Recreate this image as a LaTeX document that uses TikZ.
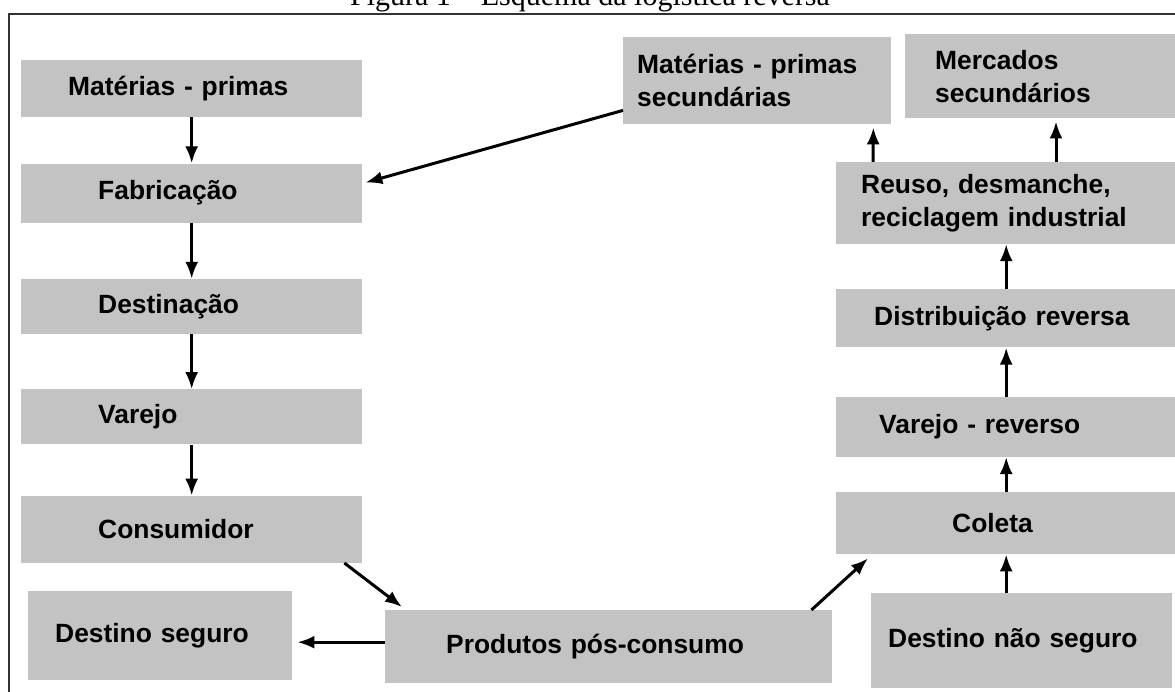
\documentclass[tikz,border=0pt]{standalone}
\usepackage{fontspec}
\setmainfont{Liberation Serif}
\newfontfamily\boxfont{Liberation Sans}
\usetikzlibrary{positioning, arrows.meta}
\definecolor{boxgray}{RGB}{195,195,195}
\definecolor{framegray}{RGB}{50,50,50}

\begin{document}
\begin{tikzpicture}[x=1pt, y=-1pt,
    box/.style={fill=boxgray, inner ysep=0pt, align=left,
        font=\boxfont\bfseries\fontsize{26.4}{33}\selectfont},
    arr/.style={-{Latex[length=17pt, width=13pt]}, line width=3pt}]
    \useasboundingbox (0,0) rectangle (1175,691);
    % Caption and frame
    \node (caption) [anchor=base, font=\fontsize{30}{36}\selectfont] at (590,5) {Figura 1 – Esquema da logística reversa};
    \draw[framegray, line width=2pt] (9,14) rectangle (1200,720);
    % Nodes for the forward chain
    \node (mp) [box, anchor=north west, text width=247pt, inner xsep=47pt, minimum height=57pt] at (21,60) {Matérias - primas};
    \node (fab) [box, below=46pt of mp, text width=187pt, inner xsep=77pt, minimum height=59pt] {Fabricação};
    \node (dest) [box, below=56pt of fab, text width=187pt, inner xsep=77pt, minimum height=55pt] {Destinação};
    \node (var) [box, below=55pt of dest, text width=187pt, inner xsep=77pt, minimum height=55pt] {Varejo};
    \node (cons) [box, below=51pt of var, text width=187pt, inner xsep=77pt, minimum height=67pt] {Consumidor};
    % Nodes for the bottom row
    \node (seg) [box, anchor=north west, text width=210pt, inner xsep=27pt, minimum height=89pt] at (28,591) {Destino seguro};
    \node (prod) [box, anchor=north west, text width=325pt, inner xsep=61pt, minimum height=73pt] at (385,610) {Produtos pós-consumo};
    \node (nseg) [box, anchor=north west, text width=267pt, inner xsep=17pt, minimum height=95pt] at (871,593) {Destino não seguro};
    % Nodes for the reverse chain
    \node (col) [box, anchor=north west, text width=108pt, inner xsep=116pt, minimum height=62pt] at (836,492) {Coleta};
    \node (vrev) [box, above=35pt of col, text width=254pt, inner xsep=43pt, minimum height=60pt] {Varejo - reverso};
    \node (dist) [box, above=49pt of vrev, text width=264pt, inner xsep=38pt, minimum height=58pt] {Distribuição reversa};
    \node (reuso) [box, above=45pt of dist, text width=290pt, inner xsep=25pt, minimum height=82pt] {Reuso, desmanche,\\reciclagem industrial};
    \node (mps) [box, anchor=north west, text width=240pt, inner xsep=14pt, minimum height=87pt] at (623,37) {Matérias - primas\\secundárias};
    \node (merc) [box, anchor=north west, text width=211pt, inner xsep=30pt, minimum height=84pt] at (905,34) {Mercados\\secundários};
    % Arrows for the forward chain
    \draw[arr] (mp) -- (fab);
    \draw[arr] (fab) -- (dest);
    \draw[arr] (dest) -- (var);
    \draw[arr] (var) -- (cons);
    \draw[arr] ([xshift=-18pt]cons.south east) -- ([xshift=17pt,yshift=3pt]prod.north west);
    \draw[arr] ([yshift=4.5pt]prod.west) -- ([xshift=5pt,yshift=-6.5pt]seg.east);
    % Arrows for the reverse chain
    \draw[arr] ([xshift=-21pt]prod.north east) -- ([xshift=32pt,yshift=-4pt]col.south west);
    \draw[arr] (nseg.north -| col) -- (col);
    \draw[arr] (col) -- (vrev);
    \draw[arr] (vrev) -- (dist);
    \draw[arr] (dist) -- (reuso);
    \draw[arr] ([xshift=37pt]reuso.north west) -- ([xshift=-18pt,yshift=-3pt]mps.south east);
    \draw[arr] ([xshift=220pt]reuso.north west) -- ([xshift=151pt,yshift=-3pt]merc.south west);
    \draw[arr] ([yshift=14pt]mps.south west) -- ([xshift=3pt,yshift=10.5pt]fab.east);
\end{tikzpicture}
\end{document}
